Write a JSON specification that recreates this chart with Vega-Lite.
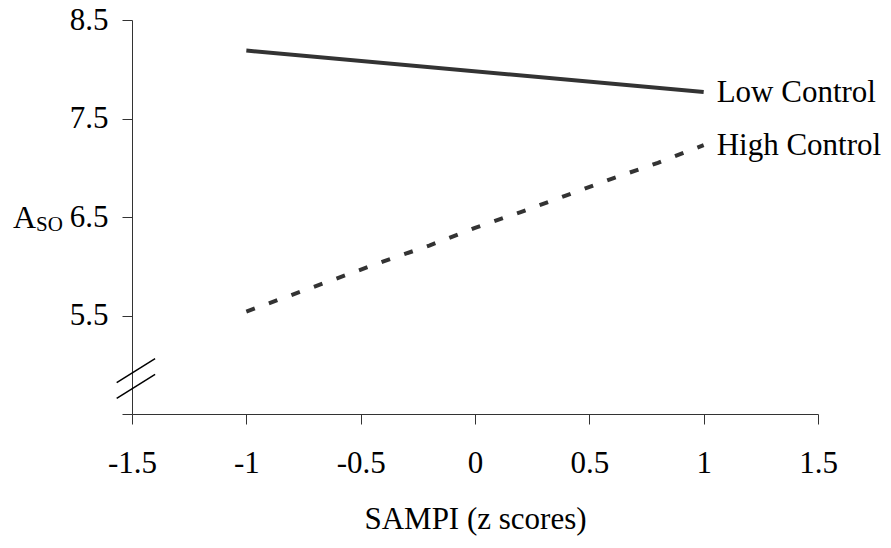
{
  "$schema": "https://vega.github.io/schema/vega-lite/v6.json",
  "width": 686,
  "height": 394,
  "autosize": {"type": "none"},
  "padding": {"left": 132, "top": 20, "right": 73, "bottom": 134},
  "background": "white",
  "datasets": {
    "lines": [
      {"series": "Low Control", "x": -1, "y": 8.19},
      {"series": "Low Control", "x": 1, "y": 7.77},
      {"series": "High Control", "x": -1, "y": 5.54},
      {"series": "High Control", "x": -0.8, "y": 5.71},
      {"series": "High Control", "x": -0.6, "y": 5.88},
      {"series": "High Control", "x": -0.4, "y": 6.05},
      {"series": "High Control", "x": -0.2, "y": 6.21},
      {"series": "High Control", "x": 0, "y": 6.39},
      {"series": "High Control", "x": 0.2, "y": 6.55},
      {"series": "High Control", "x": 0.4, "y": 6.72},
      {"series": "High Control", "x": 0.6, "y": 6.89},
      {"series": "High Control", "x": 0.8, "y": 7.05},
      {"series": "High Control", "x": 1, "y": 7.23}
    ],
    "breaks": [
      {"x": -1.567, "y": 4.818, "x2": -1.399, "y2": 5.062},
      {"x": -1.567, "y": 4.658, "x2": -1.399, "y2": 4.902}
    ],
    "ylabel": [
      {"part": "A", "x": -2.02, "y": 6.39},
      {"part": "SO", "x": -1.92, "y": 6.353}
    ]
  },
  "encoding": {
    "x": {
      "field": "x",
      "type": "quantitative",
      "scale": {"domain": [-1.5, 1.5], "nice": false, "zero": false},
      "axis": {
        "values": [-1.5, -1, -0.5, 0, 0.5, 1, 1.5],
        "labelExpr": "'' + datum.value",
        "labelPadding": 24,
        "titlePadding": 26,
        "labelFlush": false,
        "labelOverlap": false
      },
      "title": "SAMPI (z scores)"
    },
    "y": {
      "field": "y",
      "type": "quantitative",
      "scale": {"domain": [4.5, 8.5], "nice": false, "zero": false},
      "axis": {
        "values": [4.5, 5.5, 6.5, 7.5, 8.5],
        "labelExpr": "datum.value == 4.5 ? '' : '' + datum.value",
        "labelPadding": 14,
        "labelFlush": false,
        "labelOverlap": false
      },
      "title": null
    }
  },
  "layer": [
    {
      "data": {"name": "lines"},
      "transform": [{"filter": "datum.series == 'Low Control'"}],
      "mark": {"type": "line", "color": "#333333", "strokeWidth": 4}
    },
    {
      "data": {"name": "lines"},
      "transform": [{"filter": "datum.series == 'High Control'"}],
      "mark": {"type": "line", "color": "#333333", "strokeWidth": 4, "strokeDash": [9, 15]}
    },
    {
      "data": {"name": "lines"},
      "transform": [{"filter": "datum.x == 1"}],
      "mark": {"type": "text", "align": "left", "baseline": "middle", "dx": 13, "dy": 1, "font": "Liberation Serif", "fontSize": 31, "color": "black"},
      "encoding": {"text": {"field": "series"}}
    },
    {
      "data": {"name": "breaks"},
      "mark": {"type": "rule", "color": "black", "strokeWidth": 1.5, "clip": false},
      "encoding": {
        "x2": {"field": "x2"},
        "y2": {"field": "y2"}
      }
    },
    {
      "data": {"name": "ylabel"},
      "transform": [{"filter": "datum.part == 'A'"}],
      "mark": {"type": "text", "align": "left", "baseline": "alphabetic", "font": "Liberation Serif", "fontSize": 32, "color": "black"},
      "encoding": {"text": {"field": "part"}}
    },
    {
      "data": {"name": "ylabel"},
      "transform": [{"filter": "datum.part == 'SO'"}],
      "mark": {"type": "text", "align": "left", "baseline": "alphabetic", "font": "Liberation Serif", "fontSize": 21, "color": "black"},
      "encoding": {"text": {"field": "part"}}
    }
  ],
  "config": {
    "view": {"stroke": null},
    "axis": {
      "grid": false,
      "domainColor": "#333333",
      "tickColor": "#333333",
      "domainWidth": 1,
      "tickWidth": 1,
      "tickSize": 10,
      "labelFont": "Liberation Serif",
      "titleFont": "Liberation Serif",
      "labelColor": "black",
      "titleColor": "black",
      "labelFontSize": 31,
      "titleFontSize": 31,
      "titleFontWeight": "normal"
    }
  }
}
